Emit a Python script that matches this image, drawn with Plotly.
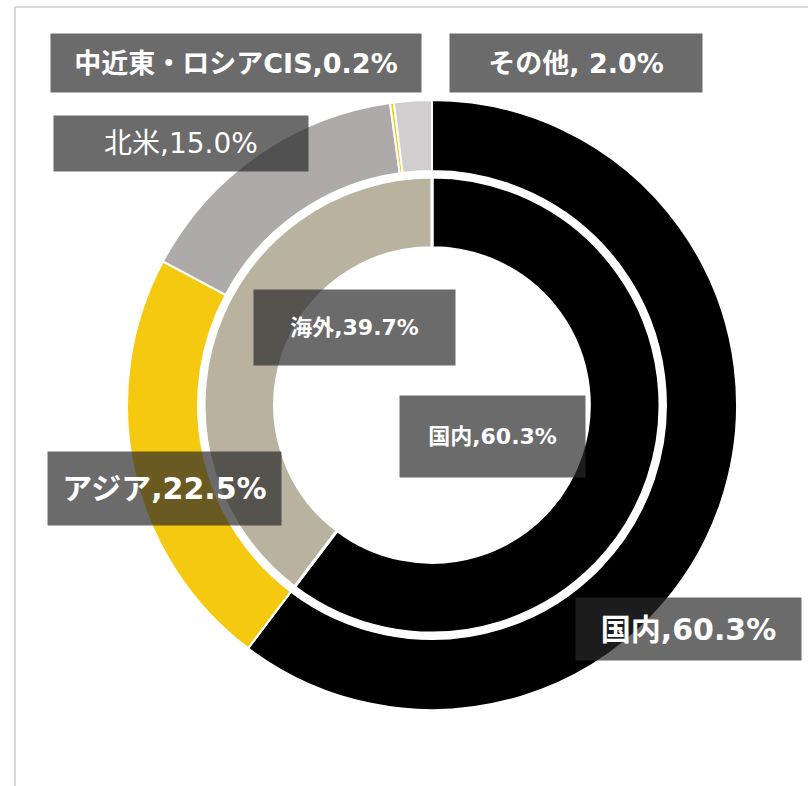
import plotly.graph_objects as go

W, H = 808, 786

# 外側リング(地域別)
outer_labels = ["国内", "アジア", "北米", "中近東・ロシアCIS", "その他"]
outer_values = [60.3, 22.5, 15.0, 0.2, 2.0]
outer_colors = ["#000000", "#F5C90F", "#AEAAAA", "#F5C90F", "#D0CECE"]

# 内側リング(国内/海外)
inner_labels = ["国内", "海外"]
inner_values = [60.3, 39.7]
inner_colors = ["#000000", "#B9B29E"]

FONT = "DejaVu Sans, Noto Sans CJK JP, sans-serif"


def px_domain(cx, cy, r):
    # ピクセル座標の中心と半径から paper 座標の domain を作る
    return dict(x=[(cx - r) / W, (cx + r) / W],
                y=[(H - cy - r) / H, (H - cy + r) / H])


fig = go.Figure()
fig.add_trace(go.Pie(labels=outer_labels, values=outer_values, sort=False,
                     direction="clockwise", rotation=0, hole=0.767,
                     marker=dict(colors=outer_colors, line=dict(color="white", width=2)),
                     textinfo="none", hoverinfo="label+percent",
                     domain=px_domain(432, 405, 305), showlegend=False))
fig.add_trace(go.Pie(labels=inner_labels, values=inner_values, sort=False,
                     direction="clockwise", rotation=0, hole=0.69,
                     marker=dict(colors=inner_colors, line=dict(color="white", width=3)),
                     textinfo="none", hoverinfo="label+percent",
                     domain=px_domain(432, 405, 228), showlegend=False))

# ラベル: (テキスト, 中心x, 中心y, 幅, 高さ, 文字サイズ, 太字)
label_boxes = [
    (f"{outer_labels[3]},{outer_values[3]:.1f}%", 236, 63, 370, 58, 27, True),
    (f"{outer_labels[4]}, {outer_values[4]:.1f}%", 576, 63, 252, 58, 27, True),
    (f"{outer_labels[2]},{outer_values[2]:.1f}%", 181, 144, 254, 55, 28, False),
    (f"{inner_labels[1]},{inner_values[1]:.1f}%", 354, 328, 201, 75, 22, True),
    (f"{inner_labels[0]},{inner_values[0]:.1f}%", 492, 437, 185, 81, 22, True),
    (f"{outer_labels[1]},{outer_values[1]:.1f}%", 164, 488, 233, 73, 30, True),
    (f"{outer_labels[0]},{outer_values[0]:.1f}%", 688, 629, 225, 62, 30, True),
]

for text, cx, cy, bw, bh, size, bold in label_boxes:
    fig.add_annotation(
        x=cx / W, y=1 - cy / H, xref="paper", yref="paper",
        xanchor="center", yanchor="middle",
        text=f"<b>{text}</b>" if bold else text, showarrow=False,
        width=bw, height=bh, align="center", valign="middle",
        bgcolor="rgba(40,40,40,0.69)", borderpad=0,
        font=dict(family=FONT, size=size, color="white"),
    )

# 枠線(上と左)
fig.add_shape(type="line", xref="paper", yref="paper",
              x0=15 / W, x1=1, y0=1 - 7 / H, y1=1 - 7 / H,
              line=dict(color="#D9D9D9", width=2))
fig.add_shape(type="line", xref="paper", yref="paper",
              x0=15 / W, x1=15 / W, y0=0, y1=1 - 7 / H,
              line=dict(color="#D9D9D9", width=2))

fig.update_layout(width=W, height=H, margin=dict(l=0, r=0, t=0, b=0),
                  paper_bgcolor="white", plot_bgcolor="white",
                  font=dict(family=FONT))

# ページ余白を消して図を左上に合わせる
fig.write_html("out.html", config={"displayModeBar": False},
               post_script="document.body.style.margin='0';")
